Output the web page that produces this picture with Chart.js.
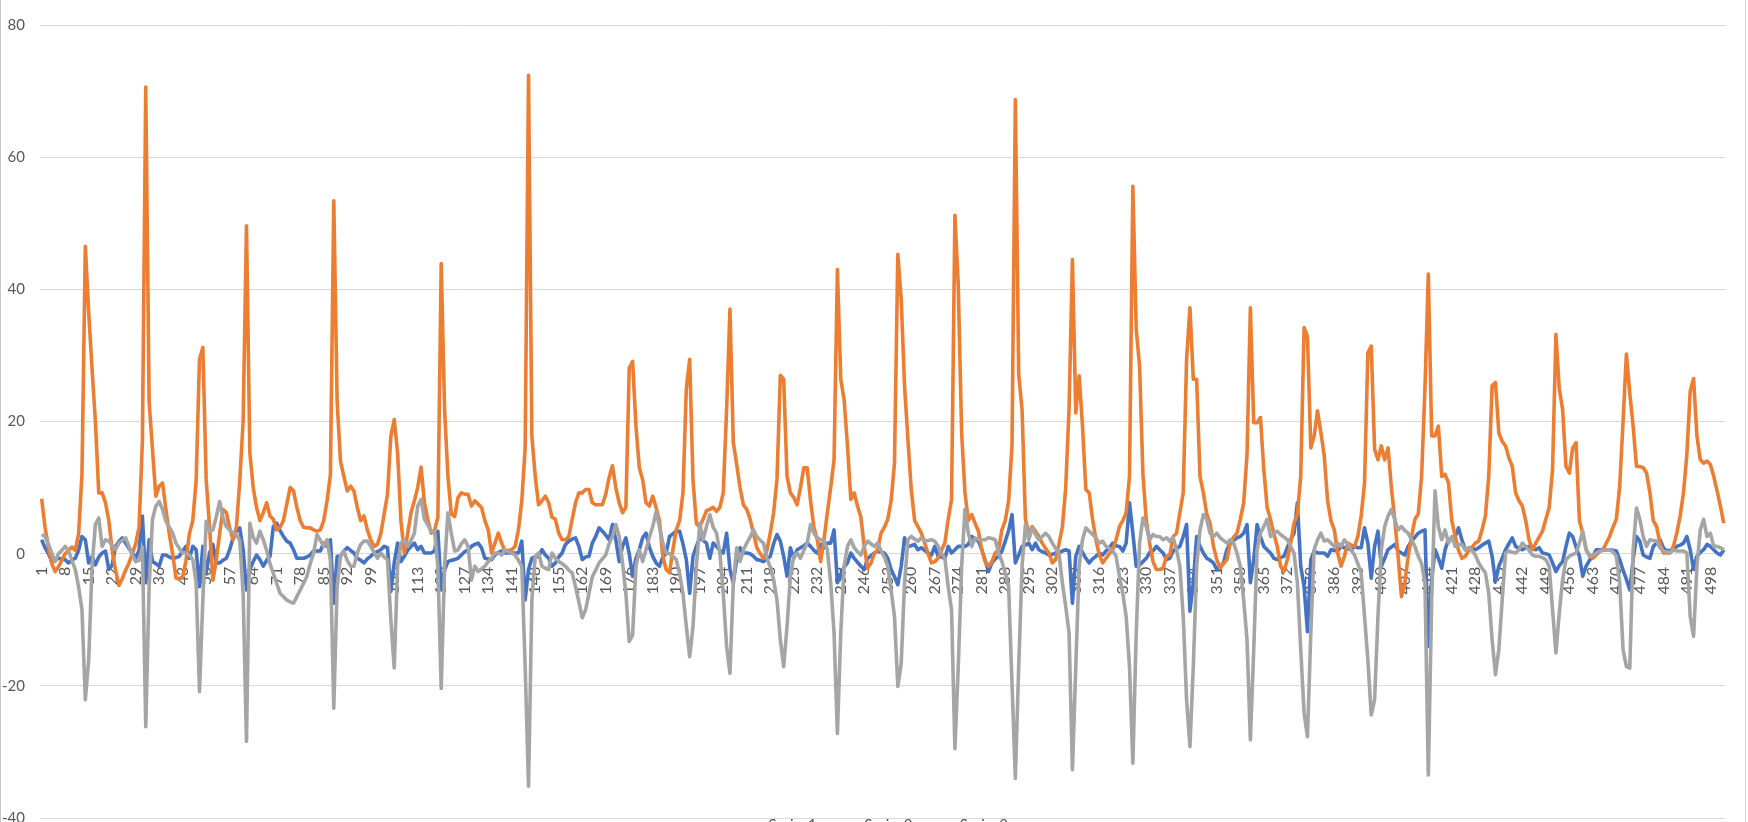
<!DOCTYPE html>
<html>
<head>
<meta charset="utf-8">
<script src="https://cdn.jsdelivr.net/npm/chart.js@4.4.0/dist/chart.umd.min.js"></script>
<style>
  html, body { margin: 0; padding: 0; background: #fff; overflow: hidden; }
  #wrap { position: relative; width: 1748px; height: 822px; overflow: hidden; }
  #frame { position: absolute; left: 0; top: 0; width: 1744px; height: 822px; border-left: 1px solid #c8c8c8; border-right: 1px solid #d9d9d9; pointer-events: none; }
  canvas { display: block; }
</style>
</head>
<body>
<div id="wrap">
  <canvas id="line-chart" width="1748" height="850"></canvas>
  <div id="frame"></div>
</div>
<script>
const seriesNames = ['Series1', 'Series2', 'Series3']
const yTicks = [-40, -20, 0, 20, 40, 60, 80]
const labelStep = 7

const series1 = [
  2.1, 0.9, 0, -1.2, -1, -0.7, -0.8, -0.9, -1.4, -1,
  -0.7, 0.5, 2.6, 2.1, -1.4, -0.4, -1.7, -0.5, 0.1, 0.4,
  -2.4, -1.7, 1.1, 1.8, 2.4, 1.6, 0.8, 0.1, -0.7, 0.5,
  5.7, -4.4, 2.1, -1.2, -1.5, -1.9, -0.2, -0.2, -0.5, -0.7,
  -0.6, -0.4, 0.4, 1.1, -0.7, 1.1, 0.6, -5, 1.1, -2.9,
  0.1, 1.4, -1.4, -1.4, -1, -0.7, 0.6, 2.4, 3.4, 3.9,
  0.6, -5.5, -2.4, -1.2, -0.2, -0.9, -1.9, -1, -0.4, 4.1,
  4.6, 3.5, 2.6, 1.9, 1.6, 0.6, -0.7, -0.7, -0.7, -0.5,
  -0.2, 0.4, 0.4, 0.4, 1.6, 1.1, 2.1, -7.5, -0.4, -0.4,
  0.4, 0.9, 0.5, 0.1, -0.7, -1, -1.4, -0.8, -0.4, 0.1,
  0.3, 0.6, 1.1, 0.9, -5.7, -1.4, 1.6, -1.2, -0.4, 0.5,
  1.1, 1.6, 0.6, 1.1, 0.1, 0.1, 0.1, 0.4, 3.4, -5.5,
  -2.5, -1.2, -1, -0.9, -0.7, -0.2, 0.3, 0.6, 1.1, 1.4,
  1.6, 0.9, -0.7, -0.8, -0.9, -0.2, 0.2, 0.4, 0.1, 0.1,
  0.1, 0.1, 0.1, 1.9, -7, -2.4, -0.7, -0.5, -0.4, 0.6,
  -0.2, -0.7, -1.9, -1.4, -0.5, 0.1, 1.4, 1.9, 2.2, 2.4,
  1.1, -0.9, -0.5, -0.4, 1.6, 2.6, 3.9, 3.4, 2.8, 2.1,
  4.4, 2.1, -1.2, 1.1, 2.4, 0, -3.4, -0.7, 0.6, 2.4,
  3.1, 1, -0.4, -1.4, -1.9, -0.5, 0.1, 2.6, 3, 3.4,
  3.4, 1.5, -0.9, -6, -0.4, 1.1, 2.4, 2, 1.6, -0.7,
  1.6, 1.1, 0.5, 0.1, 3.1, -2.4, -4.4, -0.9, 0.9, 0.1,
  0.1, 0, -0.4, -0.9, -1, -1.2, -0.8, -0.4, 1.5, 2.9,
  1.9, -0.4, -3.4, 0.9, -0.7, 0.6, 0.9, 1.2, 1.6, 1.1,
  0.5, 0.1, 1.4, 0.9, 1.6, 1.6, 3.6, -4.4, -3.2, -2,
  -1.4, 0.1, -0.7, -1.3, -1.9, -2.4, -0.7, -0.3, 0.1, 0.4,
  0.2, 0.1, -0.7, -2.4, -3.5, -4.7, -1.9, 2.4, 1.1, 1.2,
  1.4, 0.6, 0.9, 0.5, 0.1, -0.2, 1.1, -0.4, -0.5, -0.7,
  1.1, 0.1, 0.6, 1.1, 1.1, 1.1, 1.4, 2.6, 2.2, 1.9,
  0.6, -1, -2.7, -1.4, -0.8, -0.4, 0.4, 1.9, 3.5, 5.9,
  -1.4, -0.2, 1.1, 1.3, 1.6, 0.6, 1.6, 0.6, 0.3, 0.1,
  -0.2, -0.1, 0.1, 0.1, 0.4, 0.6, 0.4, -7.5, -0.4, 1.1,
  0.2, -0.7, -1.4, -0.8, -0.4, 0.1, -0.2, 0.4, 0.9, 1.6,
  1.2, 1.1, 0.4, 1.6, 7.7, 3.1, -1.9, -1.7, -1.2, -0.7,
  0.2, 0.4, 1.1, 0.6, 0.1, -0.9, -0.7, 0.4, 0.8, 1.1,
  2.6, 4.4, -8.7, -4.4, 2.6, 1.1, 0.1, -0.7, -1, -1.4,
  -2.4, -1.9, -1.4, 0.6, 1.6, 2, 2.4, 2.6, 3.1, 4.4,
  -4.4, -0.9, 4.4, 2.6, 1.1, 0.6, 0.1, -0.7, -0.9, -0.6,
  -0.4, 0.9, 2.1, 3.1, 7.7, -1.9, -5, -11.8, -0.9, 0.4,
  0.1, 0.1, 0.1, -0.4, 0.6, 0.5, 0.4, 1.1, 0.9, 0.8,
  0.6, 1.1, 0.9, 0.9, 3.9, 1.6, -3.7, 1.1, 3.4, -1.9,
  -0.7, 0.6, 1, 1.4, 0.4, 0.1, -0.2, 1.1, 1.9, 2.5,
  3.1, 3.4, 3.6, -14, -3.9, 0.6, -0.7, -2.2, 0.6, 2.1,
  2.4, 2.6, 3.9, 2.1, 0.6, 0.8, 0.9, 0.6, 0.9, 1.3,
  1.6, 1.9, -0.4, -4.2, -1.9, -0.7, 0.6, 1.5, 2.4, 1.1,
  0.8, 0.6, 0.9, 1.1, 0.8, 0.6, 0.9, 0.1, 0, -0.2,
  -1.4, -2.7, -1.8, -1.2, 1.1, 3.1, 2.6, 1, -0.4, -3.4,
  -1.9, -1, -0.4, 0.6, 0.6, 0.6, 0.6, 0.6, 0.5, 0.4,
  -0.9, -2.5, -3.9, -5.5, -0.9, 2.6, 1.9, -0.2, -0.5, -0.7,
  1.1, 1.6, 2.1, 0.9, 0.4, 0.5, 0.6, 1.1, 1.3, 1.6,
  2.6, 0.6, -2.4, -0.4, 0.2, 0.6, 1.4, 1.1, 0.6, 0.1,
  -0.2, 0.6,
]

const series2 = [
  8.3, 4, 1, -1.5, -2.7, -2, -1, 0, 0.5, 1,
  0.5, 3, 12, 46.5, 36.5, 28, 20, 9.2, 9.2, 7.7,
  5, 0.5, -2.5, -4.8, -3.8, -2.5, -1.4, 0, 1.5, 4,
  17, 70.6, 23, 15.8, 8.7, 10.2, 10.7, 6.7, 3, 0,
  -3.7, -3.8, -3.5, -1, 3, 5, 11, 29.4, 31.2, 11.2,
  4, -4, -1, 3, 6.7, 6.2, 3.9, 2.1, 4, 11,
  20, 49.6, 15.3, 10, 7, 5, 6.2, 7.7, 5.7, 5.2,
  3.6, 4, 5, 7.5, 10, 9.5, 7, 5, 4, 3.9,
  3.9, 3.6, 3.4, 3.6, 5, 8, 12, 53.4, 23, 14,
  11.7, 9.5, 10.2, 9.5, 7, 5, 5.7, 3.6, 2.1, 1.1,
  1.4, 3, 6, 9, 17.8, 20.3, 15.3, 5, 0.1, 3,
  6.2, 8, 10, 13.1, 7.7, 5.2, 3.1, 3.5, 5.5, 43.9,
  21.8, 11.7, 6, 5.6, 8.5, 9.2, 9, 9, 7.2, 8,
  7.5, 7, 5, 3.6, 0.1, 1.6, 3.1, 1.6, 0.4, 0.5,
  0.6, 1.1, 3.6, 8, 16, 72.4, 17.8, 11.7, 7.4, 8,
  8.7, 7.7, 5.5, 5.2, 3.1, 2.1, 2.1, 2.6, 5.2, 7.7,
  9.2, 9.2, 9.7, 9.7, 7.7, 7.4, 7.4, 7.4, 9, 11.5,
  13.3, 10, 7.7, 6.2, 7, 28.1, 29.1, 19.3, 13, 11.2,
  7.7, 7.2, 8.7, 7, 5, -0.4, -2.4, -2.9, 0.6, 3.6,
  5, 9.2, 25, 29.4, 11, 4.5, 4.1, 5.2, 6.5, 6.7,
  7, 6.4, 7, 9.2, 21.8, 37, 16.8, 13.5, 10, 7.4,
  6.7, 5.2, 3.1, 0.9, 0, -0.7, 0.5, 3.1, 6.2, 11.2,
  27, 26.4, 11.7, 9.2, 8.5, 7.4, 10, 13, 13, 8,
  4, 2.1, -1.2, 2.1, 6.2, 10, 14.2, 43, 26.4, 23.3,
  16.3, 8.2, 9.2, 7.2, 5.5, 1, -2.2, -1.4, 0, 0.6,
  3.1, 4, 5.2, 8, 13.7, 45.3, 38.5, 25.4, 17.3, 9.7,
  5, 4.1, 3.1, 1.6, 0, -1.4, -1.2, -0.7, 0.5, 1.6,
  5.2, 8.2, 51.2, 40.5, 18.3, 9.2, 5, 5.9, 4.6, 3.4,
  0.6, -1.2, -1.9, -1.2, 0.1, 0.6, 3.6, 5, 8, 16.3,
  68.7, 27.1, 21.8, 5.2, 3.1, 4.1, 3.4, 2.6, 1.6, 0.8,
  0.1, -1.4, -0.9, 1.5, 4, 10, 22, 44.5, 21.3, 26.9,
  19.3, 9.7, 9.2, 5.2, 2.1, -0.2, -1.4, -0.7, 0, 0.6,
  2.1, 4.1, 5, 6.2, 11.7, 55.6, 34, 28.4, 12, 5,
  1.6, -1.2, -2.4, -2.4, -2.2, -0.4, -0.2, 2.6, 3.1, 6.2,
  9.2, 29.4, 37.2, 26.4, 26.4, 11.7, 9.2, 6, 4.6, 1.1,
  -0.9, -2.2, -1.5, -0.9, 1.6, 2.5, 3.1, 5.2, 7.7, 15,
  37.2, 19.8, 19.8, 20.6, 12.7, 7, 5.2, 3, 1.1, -1.9,
  -2.7, -0.9, 1.6, 4.6, 6, 11.7, 34.2, 32.9, 16, 17.8,
  21.6, 18.3, 14.8, 8, 5, 3.6, 0.1, -1.9, -0.4, 1.6,
  1.3, 1.1, 2.6, 5.7, 10.7, 30.4, 31.4, 15.8, 14.2, 16.3,
  14.2, 16, 10, 5.2, -0.4, -6.5, -4.4, -0.4, 2.6, 5.2,
  6, 11.7, 25, 42.3, 17.8, 17.8, 19.3, 11.7, 12, 10.7,
  5, 2.6, 0.5, -0.7, -0.4, 0.4, 1, 1.6, 1.9, 3.6,
  5.7, 11.7, 25.4, 25.9, 18.3, 17, 16.3, 14.5, 13.2, 9.2,
  8, 7.2, 5, 2.1, 0.6, 1.6, 2.5, 3.4, 5.2, 7,
  12.7, 33.2, 25, 21.8, 13.2, 12.2, 16, 16.8, 5, 3.1,
  0.6, -0.2, -0.7, -0.2, 0.3, 0.6, 1.6, 2.6, 4, 5.2,
  10.2, 20, 30.2, 24.3, 19.3, 13.2, 13.2, 13, 12.2, 9.2,
  5, 4.1, 1.6, 0.1, 0.1, 0.1, 1.1, 3.1, 5.7, 9.2,
  15, 24.6, 26.5, 17.8, 14.2, 13.7, 14, 13.5, 11.7, 9.5,
  7.2, 4.6,
]

const series3 = [
  2.9, 2.6, 1.5, 0.1, -1.2, 0, 0.5, 1.1, 0.5, -1,
  -2.4, -5, -8.5, -22.1, -16.1, -1.9, 4.4, 5.4, 1.1, 2.1,
  1.9, 1.2, 0.6, 1.6, 2, 2.4, 1.1, -0.2, -1.2, -1,
  1, -26.2, -5, 5.2, 7.2, 7.9, 6.7, 4.9, 4, 3.1,
  1.6, 0.8, 0.1, 0.1, -0.2, -0.9, -4.4, -20.9, -7, 4.9,
  3.4, 3.6, 5.5, 7.9, 5.4, 4.1, 3.6, 3.1, 2.9, 2,
  -6, -28.4, 4.6, 2.5, 1.6, 3.4, 2.1, 0.5, -1.5, -3,
  -4.5, -6, -6.5, -7, -7.3, -7.5, -6.5, -5.5, -4.5, -3.4,
  -1.5, 0.1, 2.9, 2, 1.1, 2.1, -1, -23.4, -5, -0.4,
  0.4, -1, -1.9, -1.9, 0.1, 1.4, 1.9, 1.9, 1.1, 0.2,
  -0.7, 0.1, -0.5, -0.9, -10, -17.3, -1.9, 1.6, 2.1, 1.1,
  2, 3.1, 7.2, 8.2, 5.2, 4.4, 3.4, 3.4, -1.9, -20.4,
  -1.9, 6.2, 3.1, 0.4, 0.6, 1.5, 2.1, 1.1, -4, -1.9,
  -2.7, -2.3, -1.9, -1.2, -0.7, 0.1, 0.1, -0.2, 0.6, 0.3,
  0.1, -0.2, -1, -1.9, -17, -35.2, -7, -0.4, 0.1, -1.9,
  -2.2, -2.4, 0.1, -0.7, -1.2, -1.5, -1.9, -2.5, -2.9, -5,
  -7.3, -9.7, -8.5, -6, -3.5, -2.5, -1.4, -0.8, -0.2, 1.5,
  2.6, 4.4, 2.6, -1.4, -6, -13.3, -12.3, -1.9, 0.6, -1.2,
  0.6, 2.5, 4.1, 6.4, 4.1, 1.6, 0.1, 0, -0.4, -0.9,
  -3, -6, -11, -15.6, -11, -1.9, 4.6, 2.1, 4.1, 5.9,
  4, 3.1, 0.1, -6, -14, -18.1, -4.4, 0.9, -1.2, 0.5,
  1.6, 2.5, 3.6, 2.6, 2, 1.6, -0.7, -2, -3.9, -7,
  -13, -17.1, -11, -3.4, -0.4, 0.1, -0.7, 0.5, 1.6, 4.4,
  3.1, 2.4, 2.1, 1.9, 0.6, -4.4, -12, -27.2, -12, -1.9,
  1.1, 2.1, 0.9, 0.3, -0.2, 1.1, 1.9, 1.5, 1.1, 1.6,
  0.4, -0.5, -1.9, -5.5, -9.5, -20.1, -16.6, -4.4, 2.1, 2.6,
  2.2, 1.9, 2.4, 1.9, 2, 2.1, 1.9, 1.1, 0, -0.7,
  -5, -8.5, -29.5, -17.1, -1.9, 6.7, 3.1, 1.1, 2.4, 2.1,
  2.1, 2.1, 2.4, 2.3, 2.1, 0.1, -1.2, -3, -5, -19.6,
  -34, -17.1, -1.9, 4.4, 2.1, 3.9, 2.9, 2.1, 2.6, 3.1,
  2.6, 1.6, 0.8, 0.1, -4.4, -8, -12, -32.7, -17.1, -1.9,
  2.1, 3.9, 3.4, 2.9, 2.4, 1.6, 1.9, 1.1, 0.8, 0.4,
  -0.4, -3.4, -6, -9.5, -17.1, -31.7, -12, 1.6, 5.4, 4.1,
  2.1, 2.9, 2.6, 2.6, 2.1, 2.4, 1.9, 2.4, 0.6, -1.9,
  -9.5, -22.1, -29.2, -17.1, -1.9, 3.6, 5.9, 5.2, 3.1, 2.6,
  3.1, 2.4, 2, 1.6, 2.1, 1.6, 0.1, -1.9, -7, -13,
  -28.2, -14.5, 0.6, 3.1, 4.1, 5.2, 2.6, 3.1, 3.4, 2.9,
  2.5, 2.1, 1.1, 0.1, -4.4, -14.5, -24.1, -27.7, -12, 0.6,
  2.1, 3.1, 1.9, 2.1, 1.6, 1.1, 1.6, 1.1, 2.1, 1.4,
  0.6, -0.2, -1.5, -2.9, -9.5, -16.1, -24.4, -22.1, -9.5, 0.6,
  4.1, 5.7, 6.7, 5.2, 3.6, 4.1, 3.5, 3.1, 2.1, 1.1,
  -0.4, -1.5, -4.4, -33.5, -7, 9.5, 4.1, 2.1, 3.6, 1.6,
  2.6, 1.1, 1.4, 1.4, 0.6, 0.9, 0.5, -0.2, -1.4, -2.2,
  -2.9, -6, -13, -18.3, -14.5, -7, 0.1, 0.4, 0.2, 0.1,
  0.6, 1.6, 1.1, 0.5, -0.2, -0.4, -0.4, -0.6, -0.9, -1.9,
  -8.5, -15, -9, -3.9, -0.9, -0.4, -0.1, 0.1, 1.6, 3.4,
  0.6, -0.4, -0.2, 0.1, 0.4, 0.5, 0.6, 0.6, 0.3, -0.4,
  -4.4, -14.5, -17.1, -17.3, 0.6, 6.9, 5.2, 2.6, 1.1, 2.1,
  2, 1.9, 0.9, 0.4, 0.3, 0.1, 0.6, 0.4, 0.4, 0.4,
  0.1, -9.5, -12.5, -1.9, 3.6, 5.2, 2.6, 3.1, 1.1, 1.1,
  0.9, 0.6,
]

// categories are just the row numbers 1..n
const categories = series1.map((_, i) => String(i + 1))

const textColor = '#595959'
const gridColor = '#d9d9d9'
const font = { family: 'Lato', size: 15 }

const ctx = document.getElementById('line-chart').getContext('2d')
const myChart = new Chart(ctx, {
  type: 'line',
  data: {
    labels: categories,
    datasets: [
      { label: seriesNames[0], data: series1, borderColor: '#4472C4', backgroundColor: '#4472C4', order: 3 },
      { label: seriesNames[1], data: series2, borderColor: '#ED7D31', backgroundColor: '#ED7D31', order: 2 },
      { label: seriesNames[2], data: series3, borderColor: '#A5A5A5', backgroundColor: '#A5A5A5', order: 1 },
    ],
  },
  options: {
    responsive: false,
    animation: false,
    events: [],
    datasets: {
      line: { borderWidth: 3.6, pointRadius: 0, tension: 0, borderJoinStyle: 'round' },
    },
    layout: { padding: { top: 25, right: 19, bottom: 7, left: 0 } },
    plugins: {
      tooltip: { enabled: false },
      legend: {
        position: 'bottom',
        labels: {
          padding: 0,
          boxWidth: 40,
          boxHeight: 3,
          color: textColor,
          font: font,
          sort: (a, b) => a.datasetIndex - b.datasetIndex,
        },
      },
    },
    scales: {
      x: {
        position: { y: 0 },
        offset: true,
        grid: { display: false },
        border: { display: false },
        ticks: {
          autoSkip: false,
          minRotation: 90,
          maxRotation: 90,
          padding: 5,
          color: textColor,
          font: { family: 'Lato', size: 16 },
          callback: function (value, index) {
            return index % labelStep === 0 ? this.getLabelForValue(value) : ''
          },
        },
      },
      y: {
        min: yTicks[0],
        max: yTicks[yTicks.length - 1],
        afterFit: (scale) => { scale.width = 40 },
        grid: { color: gridColor, lineWidth: 1, drawTicks: false },
        border: { display: false },
        ticks: {
          stepSize: yTicks[1] - yTicks[0],
          padding: 15,
          color: textColor,
          font: font,
        },
      },
    },
  },
})
</script>
</body>
</html>
